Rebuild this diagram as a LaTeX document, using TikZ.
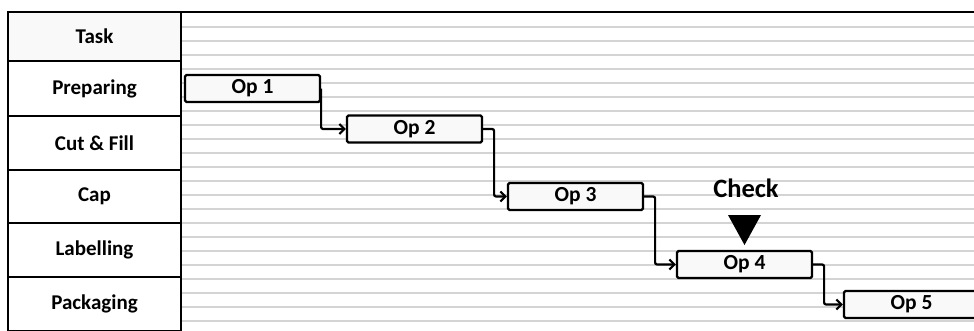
\documentclass[tikz,border=0pt]{standalone}
\usepackage{fontspec}
\setmainfont{Carlito}
\usetikzlibrary{arrows.meta}
\begin{document}
\begin{tikzpicture}[x=1pt,y=-1pt,
  cell/.style={draw=black, line width=2.8pt, minimum width=173pt, inner sep=0pt, font=\bfseries\fontsize{21}{23}\selectfont},
  opbox/.style={draw=black, line width=2.2pt, fill=gray!5, rounded corners=1.5pt, minimum width=135pt, minimum height=27pt, inner sep=0pt, font=\bfseries\fontsize{21.5}{23}\selectfont},
  gridline/.style={draw=black!17, line width=1.8pt},
  conn/.style={draw=black, line width=2.2pt, rounded corners=2pt, -{Straight Barb[length=5pt,width=10pt]}},
  marklabel/.style={font=\bfseries\fontsize{26.5}{28}\selectfont, inner sep=0pt},
]
\useasboundingbox (0,0) rectangle (974,330);
\clip (0,0) rectangle (974,330);
\fill[white] (0,0) rectangle (974,330);
\foreach \k in {0,...,21} \draw[gridline] (181,27+14*\k) -- (974,27+14*\k);
\draw[line width=2.8pt] (181,12) -- (974,12);

\node[cell, fill=gray!5, minimum height=49pt] (task) at (94.5,36.5) {Task};
\node[cell, minimum height=55pt] (prep) at (94.5,88.5) {Preparing};
\node[cell, minimum height=54pt] (cut) at (94.5,143) {Cut \& Fill};
\node[cell, minimum height=53pt] (cap) at (94.5,196.5) {Cap};
\node[cell, minimum height=54pt] (lab) at (94.5,250) {Labelling};
\node[cell, minimum height=54pt] (pack) at (94.5,304) {Packaging};

\node[opbox] (op1) at (252.5,88.5) {Op 1};
\node[opbox] (op2) at (414.5,129) {Op 2};
\node[opbox] (op3) at (575.5,196.5) {Op 3};
\node[opbox] (op4) at (744.5,264.5) {Op 4};
\node[opbox] (op5) at (911.5,304.5) {Op 5};

\draw[conn] (op1.east) |- (op2.west);
\draw[conn] (op2.east) -- ++(11,0) |- (op3.west);
\draw[conn] (op3.east) -- ++(11,0) |- (op4.west);
\draw[conn] (op4.east) -- ++(11,0) |- (op5.west);

\node[marklabel] (check) at (746,188) {Check};
\fill[black] (728,215) -- (761,215) -- (744.5,245) -- cycle;
\end{tikzpicture}
\end{document}
